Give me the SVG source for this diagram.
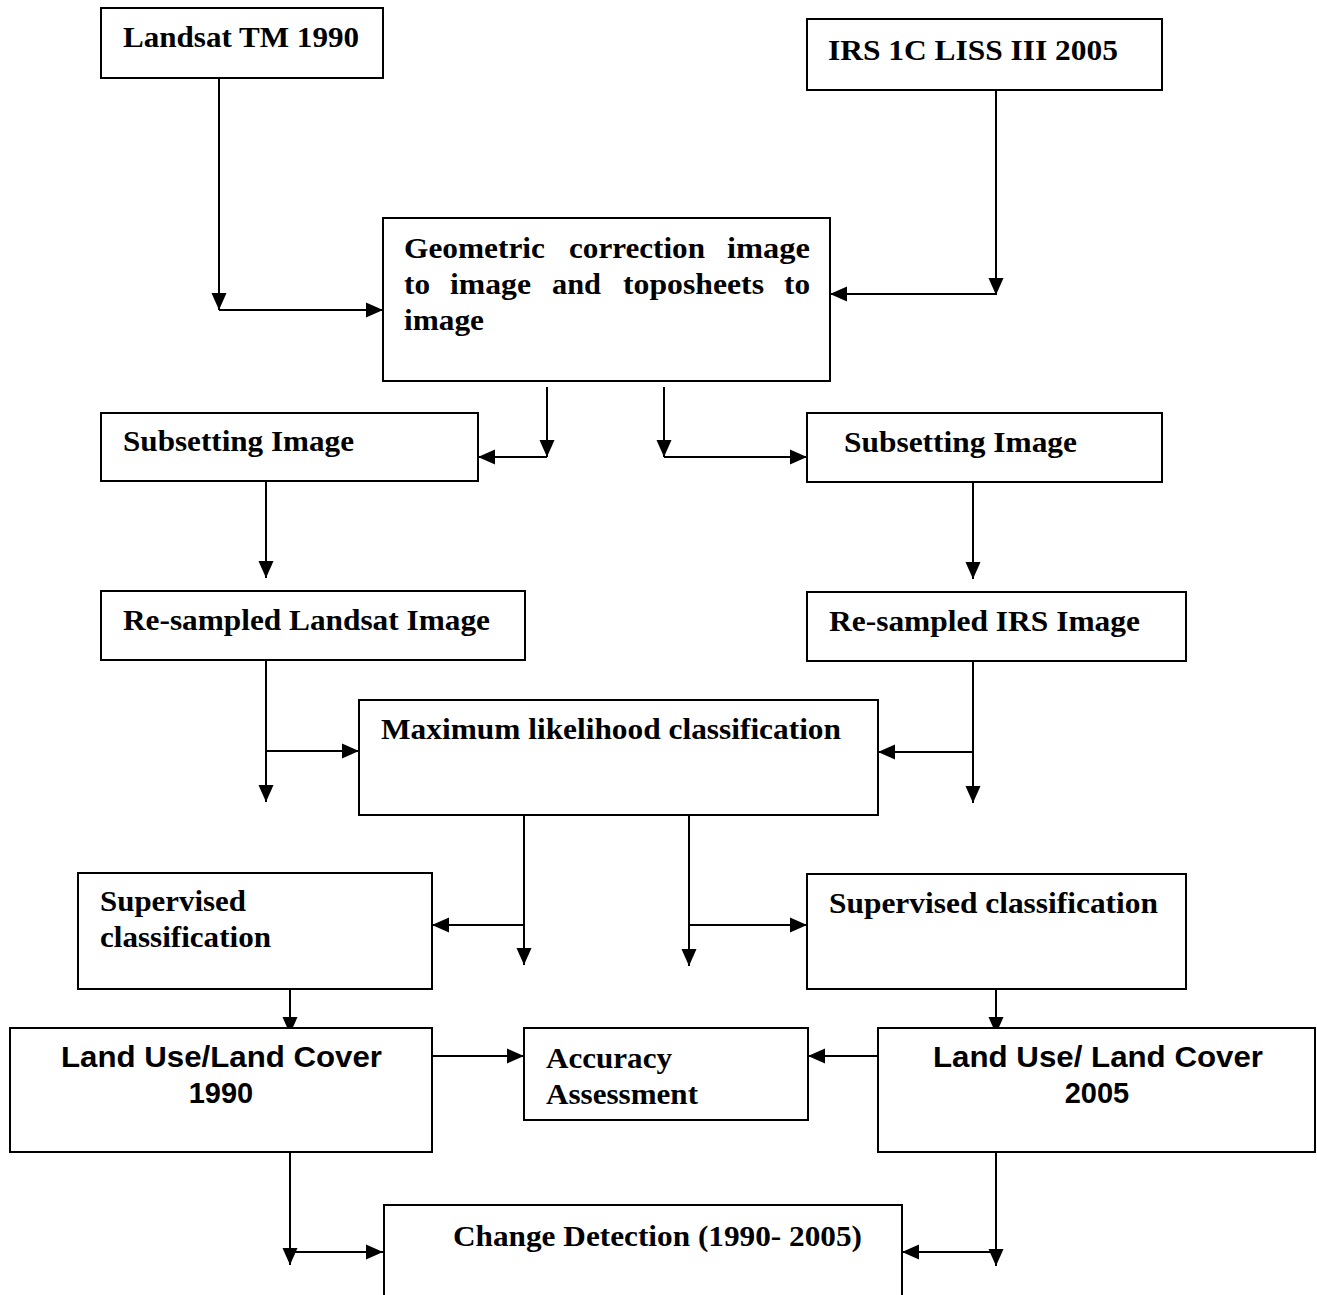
<svg xmlns="http://www.w3.org/2000/svg" width="1317" height="1295" viewBox="0 0 1317 1295">
<style>
.box{fill:#fff;stroke:#000;stroke-width:2}
.t{font-family:"Liberation Serif","Times New Roman",serif;font-weight:bold;font-size:30px;fill:#000}
.a{font-family:"Liberation Sans",Arial,sans-serif;font-weight:bold;font-size:29px;fill:#000}
.c{fill:none;stroke:#000;stroke-width:2}
</style>
<defs>
<marker id="arr" markerUnits="userSpaceOnUse" markerWidth="17" markerHeight="17" viewBox="0 0 17 17" refX="17" refY="8.5" orient="auto">
<path d="M0,1 L17,8.5 L0,16 Z" fill="#000"/>
</marker>
</defs>
<rect width="1317" height="1295" fill="#fff"/>
<g id="connectors">
<path class="c" d="M219,78 V310" marker-end="url(#arr)"/>
<path class="c" d="M219,310 H383" marker-end="url(#arr)"/>
<path class="c" d="M996,90 V295" marker-end="url(#arr)"/>
<path class="c" d="M996,294 H830" marker-end="url(#arr)"/>
<path class="c" d="M547,387 V457" marker-end="url(#arr)"/>
<path class="c" d="M547,457 H478" marker-end="url(#arr)"/>
<path class="c" d="M664,387 V457" marker-end="url(#arr)"/>
<path class="c" d="M664,457 H807" marker-end="url(#arr)"/>
<path class="c" d="M266,481 V578" marker-end="url(#arr)"/>
<path class="c" d="M973,482 V579" marker-end="url(#arr)"/>
<path class="c" d="M266,660 V802" marker-end="url(#arr)"/>
<path class="c" d="M266,751 H359" marker-end="url(#arr)"/>
<path class="c" d="M973,661 V803" marker-end="url(#arr)"/>
<path class="c" d="M973,752 H878" marker-end="url(#arr)"/>
<path class="c" d="M524,815 V965" marker-end="url(#arr)"/>
<path class="c" d="M524,925 H432" marker-end="url(#arr)"/>
<path class="c" d="M689,815 V966" marker-end="url(#arr)"/>
<path class="c" d="M689,925 H807" marker-end="url(#arr)"/>
<path class="c" d="M290,989 V1034" marker-end="url(#arr)"/>
<path class="c" d="M996,989 V1034" marker-end="url(#arr)"/>
<path class="c" d="M432,1056 H524" marker-end="url(#arr)"/>
<path class="c" d="M878,1056 H808" marker-end="url(#arr)"/>
<path class="c" d="M290,1152 V1265" marker-end="url(#arr)"/>
<path class="c" d="M290,1252 H383" marker-end="url(#arr)"/>
<path class="c" d="M996,1152 V1266" marker-end="url(#arr)"/>
<path class="c" d="M996,1252 H902" marker-end="url(#arr)"/>
</g>
<g id="n-landsat">
<rect class="box" x="101" y="8" width="282" height="70"/>
<text class="t" x="123" y="47" textLength="236" lengthAdjust="spacingAndGlyphs">Landsat TM 1990</text>
</g>
<g id="n-irs">
<rect class="box" x="807" y="19" width="355" height="71"/>
<text class="t" x="828" y="60" textLength="290" lengthAdjust="spacingAndGlyphs">IRS 1C LISS III 2005</text>
</g>
<g id="n-geo">
<rect class="box" x="383" y="218" width="447" height="163"/>
<text class="t" x="404" y="258" textLength="141" lengthAdjust="spacingAndGlyphs">Geometric</text>
<text class="t" x="569" y="258" textLength="136" lengthAdjust="spacingAndGlyphs">correction</text>
<text class="t" x="727" y="258" textLength="83" lengthAdjust="spacingAndGlyphs">image</text>
<text class="t" x="404" y="294" textLength="26" lengthAdjust="spacingAndGlyphs">to</text>
<text class="t" x="450" y="294" textLength="81" lengthAdjust="spacingAndGlyphs">image</text>
<text class="t" x="552" y="294" textLength="49" lengthAdjust="spacingAndGlyphs">and</text>
<text class="t" x="623" y="294" textLength="141" lengthAdjust="spacingAndGlyphs">toposheets</text>
<text class="t" x="784" y="294" textLength="26" lengthAdjust="spacingAndGlyphs">to</text>
<text class="t" x="404" y="330" textLength="80" lengthAdjust="spacingAndGlyphs">image</text>
</g>
<g id="n-sub-l">
<rect class="box" x="101" y="413" width="377" height="68"/>
<text class="t" x="123" y="451" textLength="231" lengthAdjust="spacingAndGlyphs">Subsetting Image</text>
</g>
<g id="n-sub-r">
<rect class="box" x="807" y="413" width="355" height="69"/>
<text class="t" x="844" y="452" textLength="233" lengthAdjust="spacingAndGlyphs">Subsetting Image</text>
</g>
<g id="n-res-l">
<rect class="box" x="101" y="591" width="424" height="69"/>
<text class="t" x="123" y="630" textLength="367" lengthAdjust="spacingAndGlyphs">Re-sampled Landsat Image</text>
</g>
<g id="n-res-r">
<rect class="box" x="807" y="592" width="379" height="69"/>
<text class="t" x="829" y="631" textLength="311" lengthAdjust="spacingAndGlyphs">Re-sampled IRS Image</text>
</g>
<g id="n-max">
<rect class="box" x="359" y="700" width="519" height="115"/>
<text class="t" x="381" y="739" textLength="460" lengthAdjust="spacingAndGlyphs">Maximum likelihood classification</text>
</g>
<g id="n-sup-l">
<rect class="box" x="78" y="873" width="354" height="116"/>
<text class="t" x="100" y="911" textLength="146" lengthAdjust="spacingAndGlyphs">Supervised</text>
<text class="t" x="100" y="947" textLength="171" lengthAdjust="spacingAndGlyphs">classification</text>
</g>
<g id="n-sup-r">
<rect class="box" x="807" y="874" width="379" height="115"/>
<text class="t" x="829" y="913" textLength="329" lengthAdjust="spacingAndGlyphs">Supervised classification</text>
</g>
<g id="n-lulc-1990">
<rect class="box" x="10" y="1028" width="422" height="124"/>
<text class="a" x="61" y="1067" textLength="321" lengthAdjust="spacingAndGlyphs">Land Use/Land Cover</text>
<text class="a" x="221" y="1103" text-anchor="middle">1990</text>
</g>
<g id="n-acc">
<rect class="box" x="524" y="1028" width="284" height="92"/>
<text class="t" x="546" y="1068" textLength="126" lengthAdjust="spacingAndGlyphs">Accuracy</text>
<text class="t" x="546" y="1104" textLength="152" lengthAdjust="spacingAndGlyphs">Assessment</text>
</g>
<g id="n-lulc-2005">
<rect class="box" x="878" y="1028" width="437" height="124"/>
<text class="a" x="933" y="1067" textLength="330" lengthAdjust="spacingAndGlyphs">Land Use/ Land Cover</text>
<text class="a" x="1097" y="1103" text-anchor="middle">2005</text>
</g>
<g id="n-change">
<rect class="box" x="384" y="1205" width="518" height="100"/>
<text class="t" x="453" y="1246" textLength="409" lengthAdjust="spacingAndGlyphs">Change Detection (1990- 2005)</text>
</g>
</svg>
